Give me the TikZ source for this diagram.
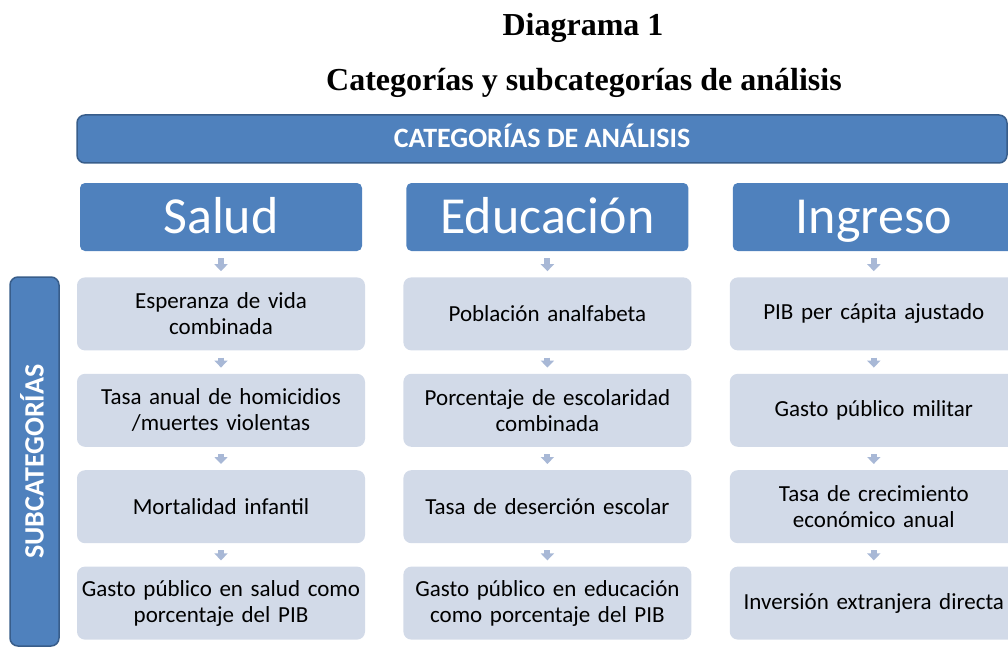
\documentclass[tikz,border=0pt]{standalone}
\usepackage{fontspec}
\setmainfont{Liberation Serif}
\newfontfamily\calibri{Carlito}
\usepackage{xcolor}
\usetikzlibrary{positioning, arrows.meta, calc}
\definecolor{catblue}{RGB}{79,129,189}
\definecolor{catline}{RGB}{56,93,138}
\definecolor{subfill}{RGB}{210,218,232}
\definecolor{arrowfill}{RGB}{168,184,214}
\tikzset{
    titlenode/.style = {draw=none, inner sep=0pt, font=\fontsize{32}{38}\selectfont\bfseries},
    bannernode/.style = {draw=catline, line width=1.5pt, fill=catblue, rounded corners=8pt,
      minimum width=930pt, minimum height=48pt, inner sep=0pt, text=white,
      text height=18pt, text depth=0pt,
      font=\calibri\bfseries\fontsize{28}{32}\selectfont},
    catnode/.style = {draw=none, fill=catblue, rounded corners=5pt, minimum width=282pt,
      minimum height=68pt, inner sep=0pt, text=white, text height=34pt, text depth=1pt,
      font=\calibri\fontsize{52}{58}\selectfont},
    subnode/.style = {draw=none, fill=subfill, rounded corners=8pt, minimum width=288pt,
      minimum height=73pt, inner sep=0pt, text width=286pt, align=center,
      font=\calibri\fontsize{23}{26}\selectfont},
    sidenode/.style = {draw=catline, line width=1.5pt, fill=catblue, rounded corners=8pt,
      rotate=90, minimum width=369pt, minimum height=49pt, inner sep=0pt, text=white,
      text height=18pt, text depth=0pt,
      font=\calibri\bfseries\fontsize{28}{32}\selectfont},
    connect/.style = {arrowfill, line width=6pt, shorten <=7pt, shorten >=6pt,
      -{Triangle[width=13pt,length=7pt]}},
    every text node part/.style={align=center}
}

\begin{document}
\begin{tikzpicture}[x=1pt, y=1pt, node distance=23pt]
    \clip (0,0) rectangle (1008,-647);

    % titulos
    \node [titlenode, name=diag] at (583,-28) {Diagrama 1};
    \node [titlenode, name=subtit] at (584,-83) {Categorías y subcategorías de análisis};

    \node [bannernode, name=banner] at (542,-139) {CATEGORÍAS DE ANÁLISIS};

    % categorias
    \node [catnode, name=salud] at (221,-217) {Salud};
    \node [catnode, name=educ, right=44pt of salud] {Educación};
    \node [catnode, name=ingreso, right=44pt of educ] {Ingreso};

    % subcategorias salud
    \node [subnode, name=s1, below=26pt of salud] {Esperanza de vida\\combinada};
    \node [subnode, name=s2, below=of s1] {Tasa anual de homicidios\\/muertes violentas};
    \node [subnode, name=s3, below=of s2] {Mortalidad infantil};
    \node [subnode, name=s4, below=of s3] {Gasto público en salud como\\porcentaje del PIB};

    % subcategorias educacion
    \node [subnode, name=e1, below=26pt of educ] {Población analfabeta};
    \node [subnode, name=e2, below=of e1] {Porcentaje de escolaridad\\combinada};
    \node [subnode, name=e3, below=of e2] {Tasa de deserción escolar};
    \node [subnode, name=e4, below=of e3] {Gasto público en educación\\como porcentaje del PIB};

    % subcategorias ingreso
    \node [subnode, name=i1, below=26pt of ingreso] {PIB per cápita ajustado};
    \node [subnode, name=i2, below=of i1] {Gasto público militar};
    \node [subnode, name=i3, below=of i2] {Tasa de crecimiento\\económico anual};
    \node [subnode, name=i4, below=of i3] {Inversión extranjera directa};

    \node [sidenode, name=side] at (34.5,-461.5) {SUBCATEGORÍAS};

    % flechas
    \draw [connect] (salud) -- (s1);
    \draw [connect] (s1) -- (s2);
    \draw [connect] (s2) -- (s3);
    \draw [connect] (s3) -- (s4);
    \draw [connect] (educ) -- (e1);
    \draw [connect] (e1) -- (e2);
    \draw [connect] (e2) -- (e3);
    \draw [connect] (e3) -- (e4);
    \draw [connect] (ingreso) -- (i1);
    \draw [connect] (i1) -- (i2);
    \draw [connect] (i2) -- (i3);
    \draw [connect] (i3) -- (i4);
\end{tikzpicture}
\end{document}
